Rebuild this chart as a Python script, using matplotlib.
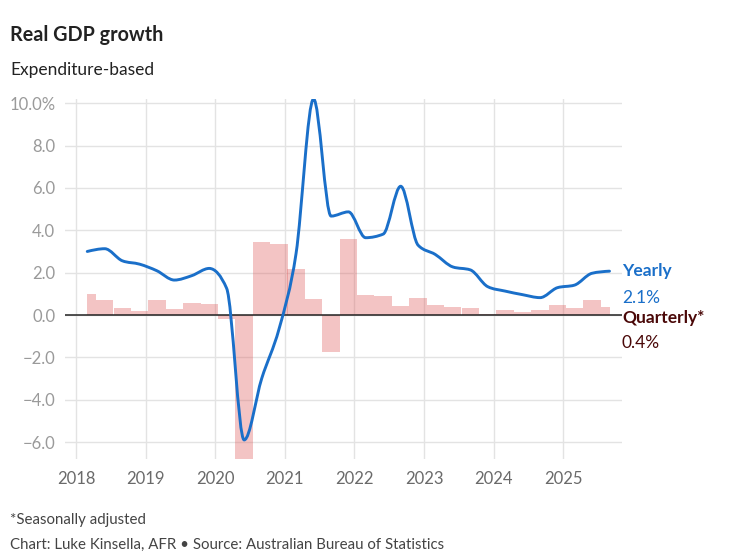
import numpy as np
import pandas as pd
import matplotlib
matplotlib.use("Agg")
import matplotlib.pyplot as plt
from matplotlib.path import Path
from matplotlib.patches import PathPatch
from matplotlib.ticker import FuncFormatter

plt.rcParams["font.family"] = ["Lato", "DejaVu Sans"]

# quarterly observations, Mar 2018 - Sep 2025
quarters = pd.date_range("2018-03-01", "2025-09-01", freq="3MS")

quarterly = [1.0, 0.71, 0.33, 0.2,
             0.71, 0.27, 0.56, 0.53,
             -0.2, -6.8, 3.44, 3.35,
             2.17, 0.75, -1.73, 3.57,
             0.94, 0.9, 0.44, 0.82,
             0.47, 0.36, 0.33, 0.05,
             0.22, 0.16, 0.25, 0.49,
             0.31, 0.69, 0.37]

yearly = [3.0, 3.13, 2.56, 2.4,
          2.09, 1.65, 1.86, 2.2,
          1.26, -5.9, -3.0, -0.66,
          2.9, 10.2, 4.67, 4.87,
          3.65, 3.82, 6.08, 3.3,
          2.86, 2.27, 2.13, 1.34,
          1.13, 0.96, 0.82, 1.29,
          1.41, 1.97, 2.07]

years = list(range(2018, 2026))
yticks = [-6, -4, -2, 0, 2, 4, 6, 8, 10]

BLUE = "#1a6fc9"
MAROON = "#4a0808"


def monotone_path(xs, ys):
    # cubic bezier path like d3.curveMonotoneX
    xs = np.asarray(xs, float)
    ys = np.asarray(ys, float)
    n = len(xs)
    h = np.diff(xs)
    s = np.diff(ys) / h
    t = np.zeros(n)
    for i in range(1, n - 1):
        s0, s1 = s[i - 1], s[i]
        p = (s0 * h[i] + s1 * h[i - 1]) / (h[i - 1] + h[i])
        t[i] = (np.sign(s0) + np.sign(s1)) * min(abs(s0), abs(s1), 0.5 * abs(p))
    t[0] = (3 * s[0] - t[1]) / 2
    t[-1] = (3 * s[-1] - t[-2]) / 2
    verts = [(xs[0], ys[0])]
    codes = [Path.MOVETO]
    for i in range(n - 1):
        dx = (xs[i + 1] - xs[i]) / 3
        verts += [(xs[i] + dx, ys[i] + dx * t[i]),
                  (xs[i + 1] - dx, ys[i + 1] - dx * t[i + 1]),
                  (xs[i + 1], ys[i + 1])]
        codes += [Path.CURVE4] * 3
    return Path(verts, codes)


x = np.asarray(quarters.year + (quarters.dayofyear - 1) / 365.25)

fig = plt.figure(figsize=(7.44, 5.58), dpi=100)
W, H = 744, 558
ax = fig.add_axes([65 / W, (H - 459) / H, (622 - 65) / W, (459 - 99) / H])

# bars, clipped to the first and last date
left = np.maximum(x - 0.125, x[0])
right = np.minimum(x + 0.125, x[-1])
ax.bar(left, quarterly, width=right - left, align="edge",
       color="#e06464", alpha=0.38, linewidth=0, zorder=2)

ax.axhline(0, color="#222222", lw=1.1, zorder=3)

line = PathPatch(monotone_path(x, yearly), facecolor="none", edgecolor=BLUE,
                 lw=2.1, capstyle="round", joinstyle="round", zorder=4)
ax.add_patch(line)

ax.set_xlim(2018 - 11 / 69.6, 2018 + 546 / 69.6)
ax.set_ylim(-6.8, 10.2)
ax.set_xticks(years)
ax.set_xticklabels([str(y) for y in years])
ax.set_yticks(yticks)
ax.yaxis.set_major_formatter(FuncFormatter(
    lambda v, _: f"{v:.1f}%" if v == 10 else f"{v:.1f}".replace("-", "\u2212")))

ax.grid(True, color="#e3e3e3", lw=1.0, zorder=0)
ax.set_axisbelow(True)
for sp in ax.spines.values():
    sp.set_visible(False)
ax.tick_params(axis="both", length=0)
ax.tick_params(axis="y", labelsize=12, labelcolor="#9a9a9a", pad=7)
ax.tick_params(axis="x", labelsize=12, labelcolor="#6a6a6a", pad=9)

# end labels
ax.annotate("Yearly", xy=(1, yearly[-1]), xycoords=("axes fraction", "data"),
            xytext=(0, 0), textcoords="offset pixels", ha="left", va="center",
            fontsize=12.5, fontweight="bold", color=BLUE)
ax.annotate(f"{yearly[-1]:.1f}%", xy=(1, yearly[-1]), xycoords=("axes fraction", "data"),
            xytext=(0, -27), textcoords="offset pixels", ha="left", va="center",
            fontsize=12.5, color=BLUE)
ax.annotate("Quarterly*", xy=(1, 0), xycoords=("axes fraction", "data"),
            xytext=(0, -3), textcoords="offset pixels", ha="left", va="center",
            fontsize=12.5, fontweight="bold", color=MAROON)
ax.annotate(f"{quarterly[-1]:.1f}%", xy=(1, 0), xycoords=("axes fraction", "data"),
            xytext=(0, -28), textcoords="offset pixels", ha="left", va="center",
            fontsize=12.5, color=MAROON)

fig.text(10 / W, 1 - 35 / H, "Real GDP growth", fontsize=14.2, fontweight="bold",
         color="#222222", va="center", ha="left")
fig.text(10 / W, 1 - 70 / H, "Expenditure-based", fontsize=12.5,
         color="#222222", va="center", ha="left")
fig.text(10 / W, 1 - 520 / H, "*Seasonally adjusted", fontsize=10.8,
         color="#444444", va="center", ha="left")
fig.text(10 / W, 1 - 545 / H,
         "Chart: Luke Kinsella, AFR \u2022 Source: Australian Bureau of Statistics",
         fontsize=10.8, color="#444444", va="center", ha="left")

fig.savefig("out.png", dpi=100)
